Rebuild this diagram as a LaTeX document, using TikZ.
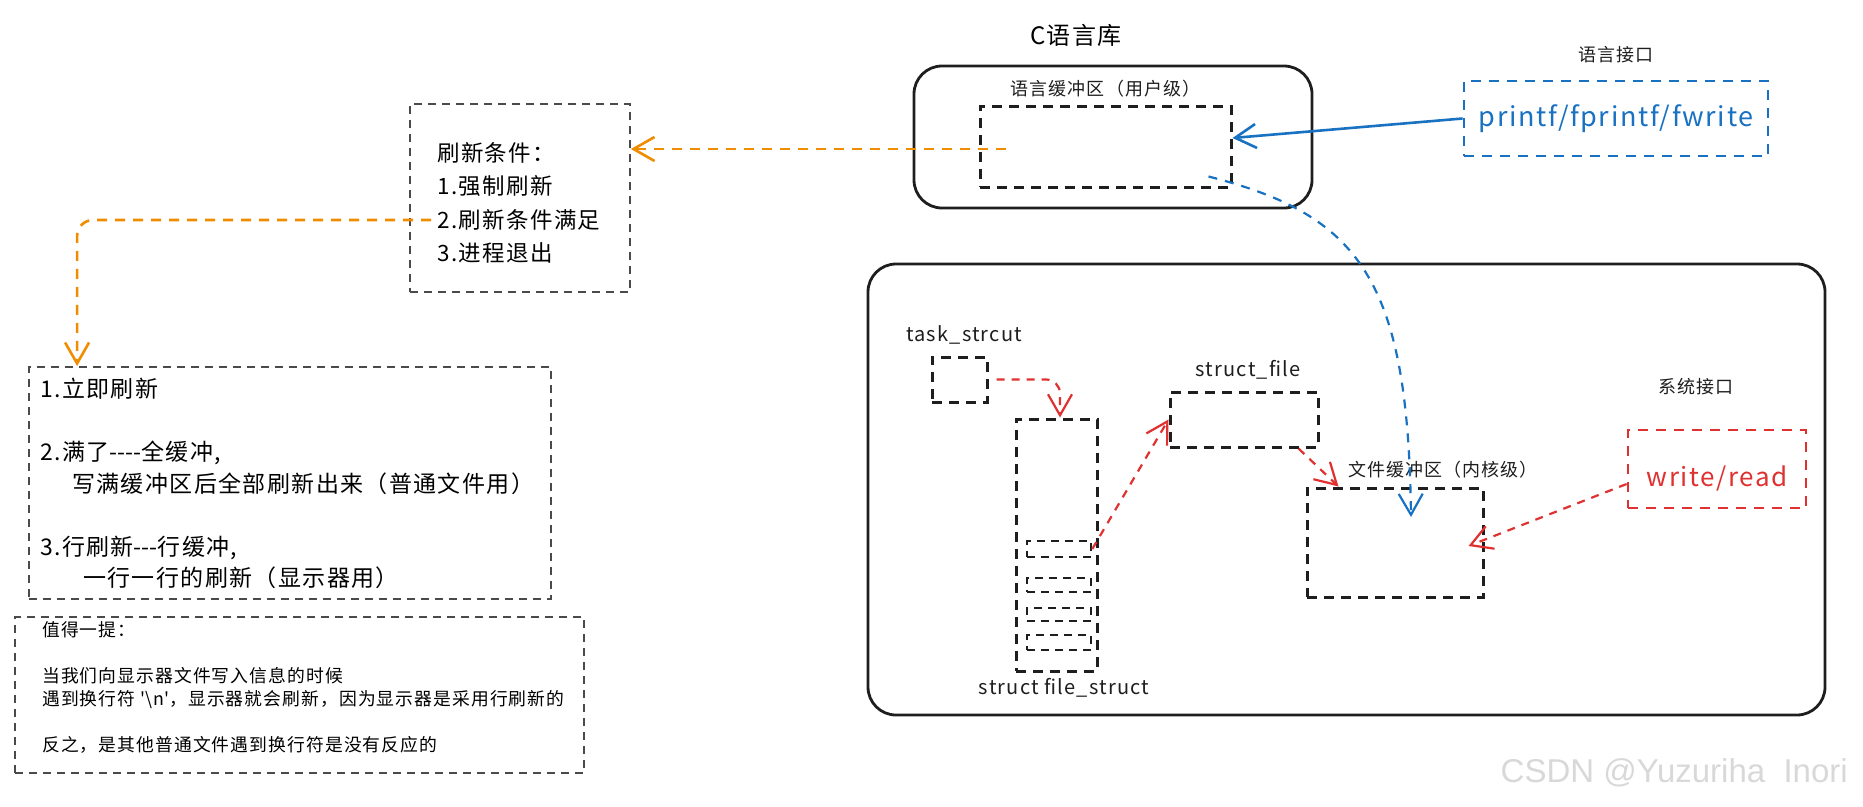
\documentclass[tikz,border=0pt]{standalone}
\usepackage{fontspec}
\setmainfont{Noto Sans CJK SC}[LetterSpace=6]
\newfontfamily\markfont{Liberation Sans}
\usetikzlibrary{arrows.meta, positioning}

\definecolor{inkblack}{HTML}{1E1E1E}
\definecolor{inkgray}{HTML}{4A4A4A}
\definecolor{inkblue}{HTML}{1971C2}
\definecolor{inkred}{HTML}{E03131}
\definecolor{inkorange}{HTML}{F08C00}
\definecolor{markgray}{HTML}{D8D8D8}

\newcommand{\dsh}{\mbox{-}}

\tikzset{
  panel/.style={draw=inkblack, line width=2.8pt, rounded corners=28pt, rectangle},
  bufbox/.style={draw=inkblack, line width=3pt, dash pattern=on 10pt off 7pt, rectangle},
  notebox/.style={draw=inkgray, line width=1.8pt, dash pattern=on 8pt off 6pt, rectangle},
  apibox/.style={line width=2.8pt, dash pattern=on 10pt off 8pt, rectangle},
  boxtitle/.style={font=\fontsize{18}{22}\selectfont, text=inkblack},
  codename/.style={font=\fontsize{20}{24}\selectfont, text=inkblack},
  link/.style={line width=2.2pt, -{Straight Barb[length=21pt, width=24pt]}},
}

\begin{document}
\begin{tikzpicture}[x=1pt, y=-1pt, inner sep=0pt]
    \useasboundingbox (0,0) rectangle (1863,806);

    % C library
    \node (clib) [panel, minimum width=398pt, minimum height=142pt] at (1113,137) {};
    \node (clibname) [font=\fontsize{24}{28}\selectfont] at (1076,35) {C语言库};
    \node (ubuf) [bufbox, minimum width=251pt, minimum height=81pt] at (1105.5,146.5) {};
    \node (ubufname) [above of=ubuf, node distance=57.5pt, boxtitle] {语言缓冲区（用户级）};

    \node (printf) [apibox, draw=inkblue, text=inkblue, minimum width=304pt, minimum height=75pt, font=\fontsize{27}{32}\selectfont] at (1616,118.5) {printf/fprintf/fwrite};
    \node (langapi) [above of=printf, node distance=63.5pt, boxtitle] {语言接口};

    % kernel
    \node (kernel) [panel, minimum width=957pt, minimum height=451pt] at (1346.5,489.5) {};
    \node (task) [bufbox, minimum width=55pt, minimum height=45pt] at (959.5,379.5) {};
    \node (taskname) [above of=task, node distance=44.5pt, xshift=4.5pt, codename] {task\_strcut};
    \node (fstruct) [bufbox, minimum width=81pt, minimum height=252pt] at (1056.5,545) {};
    \foreach \i/\y/\h in {1/549/16, 2/585/14, 3/614.5/13, 4/642.5/15}
        \node (slot\i) [bufbox, line width=2.5pt, dash pattern=on 8pt off 6pt, minimum width=64pt, minimum height=\h pt] at (1059,\y) {};
    \node (fstructname) [below of=fstruct, node distance=143pt, xshift=7.5pt, codename] {struct file\_struct};
    \node (sfile) [bufbox, minimum width=148pt, minimum height=55pt] at (1244,419.5) {};
    \node (sfilename) [above of=sfile, node distance=49.5pt, xshift=4pt, codename] {struct\_file};
    \node (kbuf) [bufbox, minimum width=176pt, minimum height=109pt] at (1395,542.5) {};
    \node (kbufname) [above of=kbuf, node distance=72.5pt, xshift=48pt, boxtitle] {文件缓冲区（内核级）};

    \node (wr) [apibox, draw=inkred, minimum width=178pt, minimum height=78pt] at (1717,469) {};
    \node (wrtext) [below of=wr, node distance=9pt, text=inkred, font=\fontsize{26}{30}\selectfont] {write/read};
    \node (sysapi) [above of=wr, node distance=82pt, xshift=-21pt, boxtitle] {系统接口};

    % flush rules
    \node (cond) [notebox, minimum width=220pt, minimum height=188pt] at (520,198) {};
    \node (condtext) [anchor=west, align=left, font=\fontsize{22.5}{33.3}\selectfont] at (437,203) {刷新条件：\\1.强制刷新\\2.刷新条件满足\\3.进程退出};

    \node (modes) [notebox, minimum width=522pt, minimum height=232pt] at (290,483) {};
    \node (modestext) [anchor=west, align=left, font=\fontsize{23}{31.5}\selectfont] at (40,483.5) {1.立即刷新\\[31.5pt]2.满了\dsh{}\dsh{}\dsh{}\dsh{}全缓冲,\\\hspace*{32pt}写满缓冲区后全部刷新出来（普通文件用）\\[31.5pt]3.行刷新\dsh{}\dsh{}\dsh{}行缓冲,\\\hspace*{43pt}一行一行的刷新（显示器用）};

    \node (note) [notebox, minimum width=569pt, minimum height=156pt] at (299.5,695) {};
    \node (notetext) [anchor=west, align=left, font=\fontsize{17.8}{23}\selectfont] at (42,687.5) {值得一提：\\[23pt]当我们向显示器文件写入信息的时候\\遇到换行符 \textquotesingle\textbackslash{}n\textquotesingle，显示器就会刷新，因为显示器是采用行刷新的\\[23pt]反之，是其他普通文件遇到换行符是没有反应的};

    % connectors
    \draw [link, draw=inkblue, line width=2.6pt] (printf.west) -- ([yshift=8.5pt]ubuf.east);
    \draw [link, draw=inkblue, dash pattern=on 9pt off 8pt] ([xshift=-24pt, yshift=12pt]ubuf.south east) .. controls (1360,215) and (1408,280) .. ([xshift=16pt, yshift=25.5pt]kbuf.center);
    \draw [link, draw=inkorange, line width=2.6pt, dash pattern=on 10pt off 8pt] ([xshift=27pt, yshift=-2.5pt]ubuf.west) -- ([yshift=49pt]cond.east);
    \draw [link, draw=inkorange, line width=2.6pt, dash pattern=on 10pt off 8pt, rounded corners=16pt] ([xshift=22pt, yshift=-22pt]cond.west) -| ([xshift=49pt]modes.north west);

    \draw [link, draw=inkred, dash pattern=on 8pt off 7pt, rounded corners=14pt] ([xshift=8pt]task.east) -| ([xshift=3.5pt]fstruct.north);
    \draw [link, draw=inkred, dash pattern=on 8pt off 7pt] (slot1.east) -- (sfile.west);
    \draw [link, draw=inkred, dash pattern=on 8pt off 7pt] ([xshift=-21pt]sfile.south east) -- ([xshift=33pt]kbuf.north west);
    \draw [link, draw=inkred, dash pattern=on 8pt off 7pt] ([yshift=-15pt]wr.west) -- ([xshift=-16pt, yshift=-3.5pt]kbuf.east);

    \node (mark) [font=\markfont\fontsize{33}{36}\selectfont, text=markgray, anchor=east] at (1848,773) {CSDN @Yuzuriha\ \ Inori};
\end{tikzpicture}
\end{document}
